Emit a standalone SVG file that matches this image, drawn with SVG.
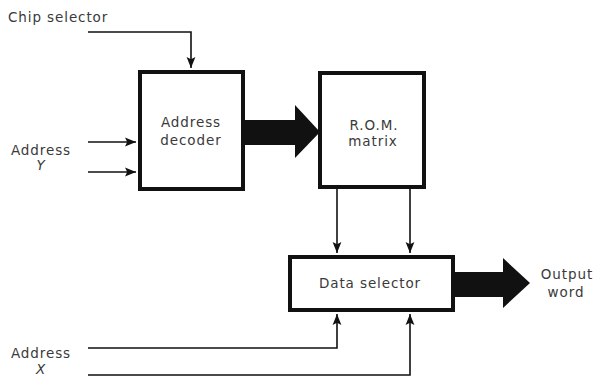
<svg xmlns="http://www.w3.org/2000/svg" width="595" height="376" viewBox="0 0 595 376">
<defs>
<marker id="ah" viewBox="0 0 10 10" refX="10" refY="5" markerWidth="11" markerHeight="11" markerUnits="userSpaceOnUse" orient="auto">
<path d="M0,1 L10,5 L0,9 L2,5 Z" fill="#111"/>
</marker>
<style>
.box{fill:#fff;stroke:#111;stroke-width:4}
.ln{fill:none;stroke:#111;stroke-width:1.6}
.t{font-family:"DejaVu Sans","Liberation Sans",sans-serif;font-size:13.5px;fill:#3a3a3a;letter-spacing:0.9px}
.c{text-anchor:middle}
.big{fill:#111}
</style>
</defs>
<rect width="595" height="376" fill="#fff"/>
<g id="connectors">
<path class="ln" d="M88,32 H191 V68" marker-end="url(#ah)"/>
<path class="ln" d="M88,142 H136" marker-end="url(#ah)"/>
<path class="ln" d="M88,172 H136" marker-end="url(#ah)"/>
<path class="big" d="M245,120 H295 V105 L320,132 L295,158 V145 H245 Z"/>
<path class="ln" d="M337,189 V253" marker-end="url(#ah)"/>
<path class="ln" d="M410,189 V253" marker-end="url(#ah)"/>
<path class="ln" d="M88,348 H337 V314" marker-end="url(#ah)"/>
<path class="ln" d="M88,375 H410 V314" marker-end="url(#ah)"/>
<path class="big" d="M455,272 H503 V258 L530,283 L503,308 V297 H455 Z"/>
</g>
<g id="chip-selector">
<text class="t" x="8" y="22">Chip selector</text>
</g>
<g id="address-y">
<text class="t c" x="41" y="155">Address</text>
<text class="t c" x="41" y="170" font-style="italic">Y</text>
</g>
<g id="address-decoder">
<rect class="box" x="140" y="72" width="103" height="117"/>
<text class="t c" x="191" y="127">Address</text>
<text class="t c" x="191" y="145">decoder</text>
</g>
<g id="rom-matrix">
<rect class="box" x="320" y="73" width="104" height="114"/>
<text class="t c" x="374" y="130">R.O.M.</text>
<text class="t c" x="373" y="146">matrix</text>
</g>
<g id="data-selector">
<rect class="box" x="290" y="257" width="163" height="53"/>
<text class="t c" x="370" y="288">Data selector</text>
</g>
<g id="output-word">
<text class="t c" x="567" y="279">Output</text>
<text class="t c" x="566" y="297">word</text>
</g>
<g id="address-x">
<text class="t c" x="41" y="358">Address</text>
<text class="t c" x="41" y="374" font-style="italic">X</text>
</g>
</svg>
